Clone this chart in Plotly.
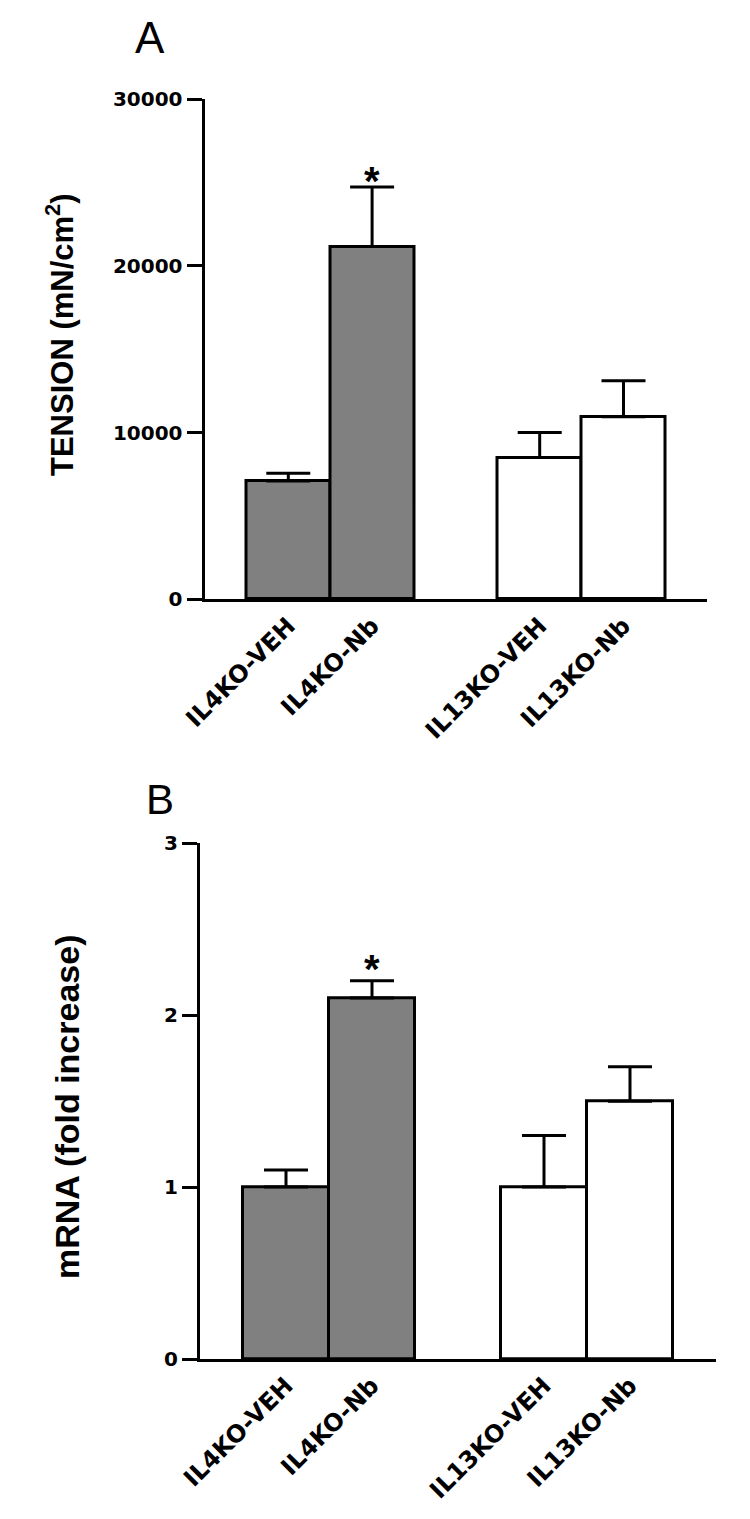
import plotly.graph_objects as go

# ---- data ----
categories = ["IL4KO-VEH", "IL4KO-Nb", "IL13KO-VEH", "IL13KO-Nb"]
cat_pos = [0, 1, 3, 4]
tension_mean = [7100, 21150, 8500, 10950]
tension_sem = [460, 3580, 1500, 2150]
mrna_mean = [1.0, 2.1, 1.0, 1.5]
mrna_sem = [0.1, 0.1, 0.3, 0.2]
bar_colors = ["#808080", "#808080", "#ffffff", "#ffffff"]
tension_ticks = [0, 10000, 20000, 30000]
mrna_ticks = [0, 1, 2, 3]
sig_index = 1  # bar marked with "*"

W, H = 750, 1519

def px_x(p):
    return p / W

def px_y(p):
    return 1 - p / H

fig = go.Figure()

for i, (mean, sem, xa, ya) in enumerate([
    (tension_mean, tension_sem, "x", "y"),
    (mrna_mean, mrna_sem, "x2", "y2"),
]):
    fig.add_trace(go.Bar(
        x=cat_pos, y=mean, width=[1] * len(cat_pos),
        marker=dict(color=bar_colors, line=dict(color="black", width=3)),
        error_y=dict(type="data", symmetric=False, array=sem,
                     arrayminus=[0] * len(sem), color="black",
                     thickness=3, width=22),
        xaxis=xa, yaxis=ya, showlegend=False,
    ))

common_x = dict(
    range=[-1, 5], tickmode="array", tickvals=cat_pos, ticktext=categories,
    tickangle=-45, ticks="", showgrid=False, zeroline=False, automargin=False,
    showline=True, linecolor="black", linewidth=3,
    tickfont=dict(family="DejaVu Sans", size=24, color="black", weight="bold"),
)
common_y = dict(
    ticks="outside", ticklen=15, tickwidth=3, tickcolor="black",
    showgrid=False, zeroline=False, showline=True, linecolor="black",
    linewidth=3, automargin=False,
    tickfont=dict(family="DejaVu Sans", size=20, color="black", weight="bold"),
)

fig.update_layout(
    width=W, height=H, margin=dict(l=0, r=0, t=0, b=0, autoexpand=False),
    paper_bgcolor="white", plot_bgcolor="white",
    bargap=0,
    xaxis=dict(domain=[px_x(204.5), px_x(707.3)], anchor="y", **common_x),
    yaxis=dict(domain=[px_y(599.3), px_y(99)], anchor="x", range=[0, 30000],
               tickmode="array", tickvals=tension_ticks,
               ticktext=[str(v) for v in tension_ticks], **common_y),
    xaxis2=dict(domain=[px_x(200), px_x(716)], anchor="y2", **common_x),
    yaxis2=dict(domain=[px_y(1359), px_y(843.3)], anchor="x2", range=[0, 3],
                tickmode="array", tickvals=mrna_ticks,
                ticktext=[str(v) for v in mrna_ticks], **common_y),
)

# panel letters
fig.add_annotation(text="A", xref="paper", yref="paper", x=px_x(133), y=px_y(37),
                   xanchor="left", yanchor="middle", showarrow=False,
                   font=dict(family="Liberation Sans", size=44, color="black"))
fig.add_annotation(text="B", xref="paper", yref="paper", x=px_x(144), y=px_y(799),
                   xanchor="left", yanchor="middle", showarrow=False,
                   font=dict(family="Liberation Sans", size=42, color="black"))

# axis titles
fig.add_annotation(text="<b>TENSION (mN/cm<sup>2</sup>)</b>", xref="paper", yref="paper",
                   x=px_x(60), y=px_y(335), textangle=-90, showarrow=False,
                   xanchor="center", yanchor="middle",
                   font=dict(family="Liberation Sans", size=31, color="black"))
fig.add_annotation(text="<b>mRNA (fold increase)</b>", xref="paper", yref="paper",
                   x=px_x(67), y=px_y(1107), textangle=-90, showarrow=False,
                   xanchor="center", yanchor="middle",
                   font=dict(family="Liberation Sans", size=34, color="black"))

# significance stars
fig.add_annotation(text="<b>*</b>", xref="x", yref="y", x=cat_pos[sig_index],
                   y=tension_mean[sig_index] + tension_sem[sig_index],
                   yanchor="bottom", showarrow=False, yshift=-18,
                   font=dict(family="Liberation Sans", size=40, color="black"))
fig.add_annotation(text="<b>*</b>", xref="x2", yref="y2", x=cat_pos[sig_index],
                   y=mrna_mean[sig_index] + mrna_sem[sig_index],
                   yanchor="bottom", showarrow=False, yshift=-12,
                   font=dict(family="Liberation Sans", size=40, color="black"))

fig.write_html("out.html",
               config={"displayModeBar": False},
               post_script="document.body.style.margin='0px';"
                           "document.body.style.padding='0px';")
